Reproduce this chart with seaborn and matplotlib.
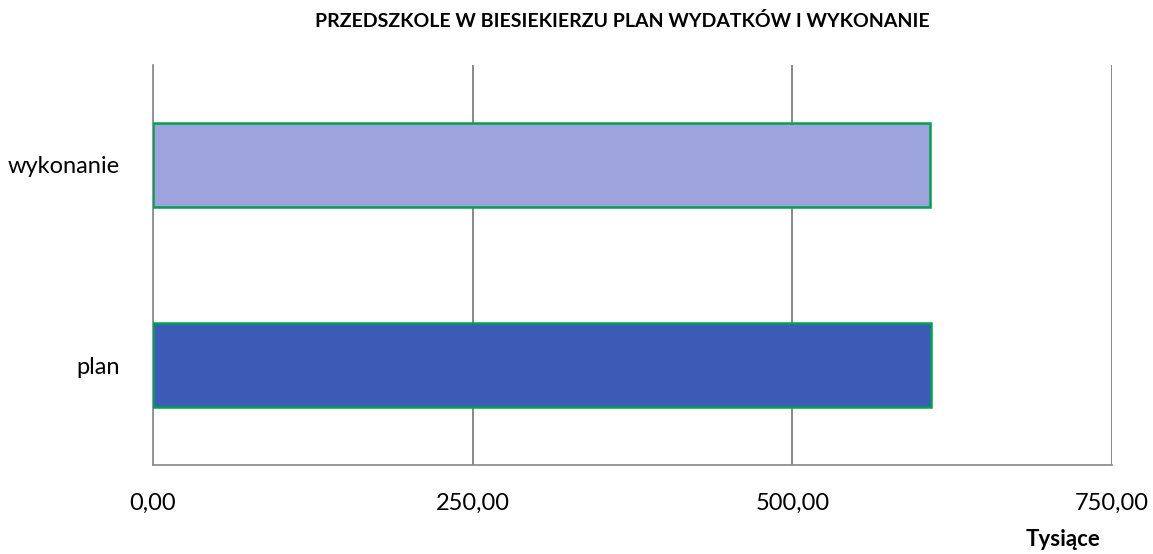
import matplotlib
matplotlib.use("Agg")
import matplotlib.pyplot as plt
import pandas as pd
import seaborn as sns

categories = ["wykonanie", "plan"]
values = [607.5, 608.5]
bar_colors = ["#9DA3DD", "#3B5BB6"]
x_ticks = [0, 250, 500, 750]
x_tick_labels = ["0,00", "250,00", "500,00", "750,00"]

sns.set_style("white")
plt.rcParams["font.family"] = ["Lato", "DejaVu Sans"]
plt.rcParams["text.color"] = "black"
plt.rcParams["xtick.color"] = "black"
plt.rcParams["ytick.color"] = "black"

df = pd.DataFrame({"kategoria": categories, "wartosc": values})

fig = plt.figure(figsize=(11.53, 5.54), dpi=100)
ax = fig.add_axes([153 / 1153, 89 / 554, 959 / 1153, 400 / 554])

sns.barplot(
    data=df, x="wartosc", y="kategoria", hue="kategoria",
    palette=bar_colors, saturation=1, orient="h", width=0.42, legend=False,
    edgecolor="#00A050", linewidth=1.8, ax=ax, zorder=3,
)

ax.set_xlim(0, 750)
ax.set_ylim(1.5, -0.5)
ax.set_xticks(x_ticks)
ax.set_xticklabels(x_tick_labels)
ax.grid(axis="x", color="#808080", linewidth=1.3, zorder=0)
ax.set_xlabel("")
ax.set_ylabel("")
ax.tick_params(axis="x", length=0, pad=20, labelsize=17)
ax.tick_params(axis="y", length=0, pad=24, labelsize=17)

for side in ["top", "right"]:
    ax.spines[side].set_visible(False)
for side in ["left", "bottom"]:
    ax.spines[side].set_color("#909090")
    ax.spines[side].set_linewidth(1.3)

fig.text(622 / 1153, 1 - 21 / 554, "PRZEDSZKOLE W BIESIEKIERZU PLAN WYDATKÓW I WYKONANIE",
         ha="center", va="center", fontsize=14, fontweight="bold")
fig.text(1101 / 1153, 1 - 540 / 554, "Tysiące", ha="right", va="center",
         fontsize=16, fontweight="bold")

fig.savefig("out.png", dpi=100)
